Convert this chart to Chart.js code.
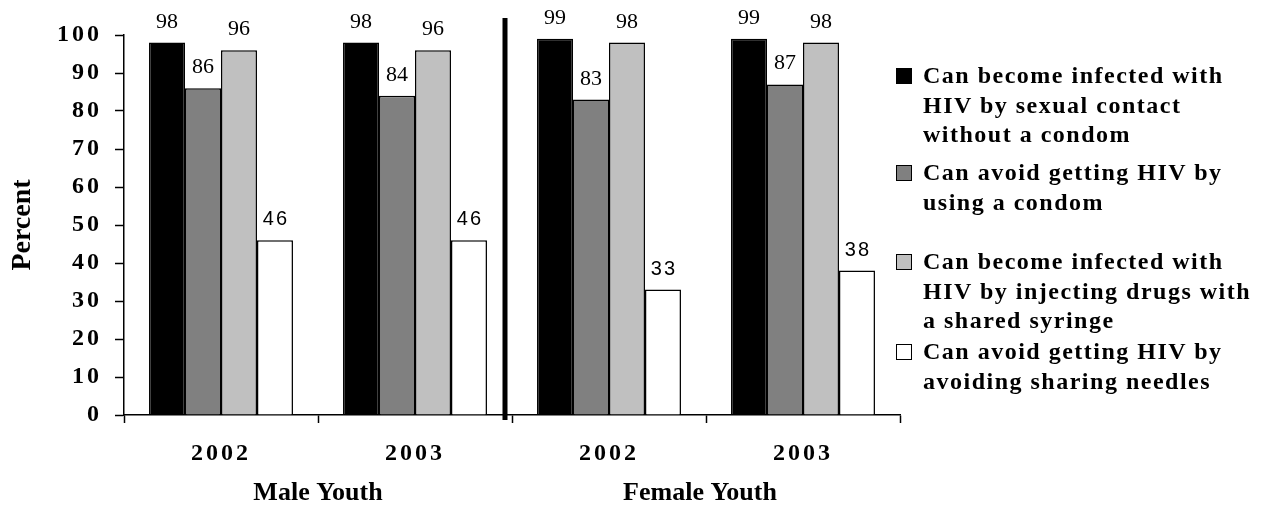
<!DOCTYPE html>
<html lang="en">
<head>
<meta charset="UTF-8">
<title>HIV knowledge among youth, 2002-2003</title>
<script src="https://cdn.jsdelivr.net/npm/chart.js"></script>
<style>
body { margin: 0; background: #fff; }
.wrap { position: relative; width: 1267px; height: 506px; }
.legend {
    position: absolute; left: 896px; top: 0;
    font-family: 'Liberation Serif', serif; font-weight: bold;
    font-size: 24px; letter-spacing: 1.5px; color: #000;
}
.item { position: absolute; left: 0; white-space: nowrap; line-height: 29.5px; }
.box { position: absolute; left: 0; top: 7px; width: 16px; height: 16px; border: 1.5px solid #000; box-sizing: border-box; }
.txt { margin-left: 27px; }
</style>
</head>
<body>
<div class="wrap">
    <canvas id="chart" width="1267" height="506"></canvas>
    <div class="legend" id="legend"></div>
</div>
<script>
// data
const categories = ['2002', '2003', '2002', '2003'];
const groups = ['Male Youth', 'Female Youth'];
const sexualContact = [98, 98, 99, 99];
const condomUse = [86, 84, 83, 87];
const sharedSyringe = [96, 96, 98, 98];
const avoidNeedles = [46, 46, 33, 38];

const legendLines = [
    ['Can become infected with', 'HIV by sexual contact', 'without a condom'],
    ['Can avoid getting HIV by', 'using a condom'],
    ['Can become infected with', 'HIV by injecting drugs with', 'a shared syringe'],
    ['Can avoid getting HIV by', 'avoiding sharing needles']
];
const colors = ['#000000', '#808080', '#c0c0c0', '#ffffff'];
const legendTops = [61, 158, 247, 337];

// legend built as html on the right
const legend = document.getElementById('legend');
legendLines.forEach((lines, i) => {
    const item = document.createElement('div');
    item.className = 'item';
    item.style.top = legendTops[i] + 'px';
    item.innerHTML = '<div class="box" style="background:' + colors[i] + '"></div>' +
        '<div class="txt">' + lines.join('<br>') + '</div>';
    legend.appendChild(item);
});

const decor = {
    id: 'decor',
    beforeDraw(chart) {
        chart.ctx.letterSpacing = '3px'; // spaced-out axis numbers
    },
    beforeDatasetsDraw(chart) {
        chart.ctx.letterSpacing = '0px';
    },
    afterDatasetsDraw(chart) {
        const ctx = chart.ctx;
        ctx.save();
        ctx.fillStyle = '#000';
        ctx.textAlign = 'center';
        ctx.textBaseline = 'alphabetic';
        chart.data.datasets.forEach((ds, i) => {
            const sans = i === 3;
            ctx.font = sans ? '20px "Liberation Sans"' : '22px "Liberation Serif"';
            ctx.letterSpacing = sans ? '2px' : '0px';
            chart.getDatasetMeta(i).data.forEach((bar, j) => {
                ctx.fillText(String(ds.data[j]), bar.x + (sans ? 1 : 0), bar.y - 15);
            });
        });
        ctx.restore();
    },
    afterDraw(chart) {
        const ctx = chart.ctx;
        const x = chart.scales.x;
        const area = chart.chartArea;
        ctx.save();
        ctx.letterSpacing = '0px';
        ctx.fillStyle = '#000';
        // thick divider between male and female
        const mid = (x.getPixelForValue(1) + x.getPixelForValue(2)) / 2 - 7;
        ctx.fillRect(mid - 2.5, area.top - 17, 5, area.bottom - area.top + 22);
        // group titles
        ctx.font = 'bold 26px "Liberation Serif"';
        ctx.textAlign = 'center';
        ctx.textBaseline = 'alphabetic';
        ctx.fillText(groups[0], (x.getPixelForValue(0) + x.getPixelForValue(1)) / 2, 500);
        ctx.fillText(groups[1], (x.getPixelForValue(2) + x.getPixelForValue(3)) / 2 - 6, 500);
        // y title
        ctx.font = 'bold 28px "Liberation Serif"';
        ctx.translate(23, (area.top + area.bottom) / 2);
        ctx.rotate(-Math.PI / 2);
        ctx.textBaseline = 'middle';
        ctx.fillText('Percent', 0, 0);
        ctx.restore();
    }
};

const makeSet = (label, data, i) => ({
    label: label,
    data: data,
    backgroundColor: colors[i],
    borderColor: '#000',
    borderWidth: 1.5,
    categoryPercentage: 0.742,
    barPercentage: 1.0
});

new Chart(document.getElementById('chart'), {
    type: 'bar',
    data: {
        labels: categories,
        datasets: [
            makeSet(legendLines[0].join(' '), sexualContact, 0),
            makeSet(legendLines[1].join(' '), condomUse, 1),
            makeSet(legendLines[2].join(' '), sharedSyringe, 2),
            makeSet(legendLines[3].join(' '), avoidNeedles, 3)
        ]
    },
    options: {
        responsive: false,
        animation: false,
        layout: { padding: { top: 35, right: 367, left: 0, bottom: 0 } },
        plugins: { legend: { display: false }, tooltip: { enabled: false } },
        scales: {
            x: {
                afterFit: s => { s.height = 91; },
                grid: { drawOnChartArea: false, offset: true, tickLength: 8, tickColor: '#000', tickWidth: 1.5 },
                border: { color: '#000', width: 1.5 },
                ticks: { color: '#000', padding: 16, font: { family: 'Liberation Serif', size: 24, weight: 'bold' } }
            },
            y: {
                min: 0,
                max: 100,
                afterFit: s => { s.width = 124; },
                grid: { drawOnChartArea: false, tickLength: 9, tickColor: '#000', tickWidth: 1.5 },
                border: { color: '#000', width: 1.5 },
                ticks: { stepSize: 10, color: '#000', padding: 13, font: { family: 'Liberation Serif', size: 24, weight: 'bold' } }
            }
        }
    },
    plugins: [decor]
});
</script>
</body>
</html>
